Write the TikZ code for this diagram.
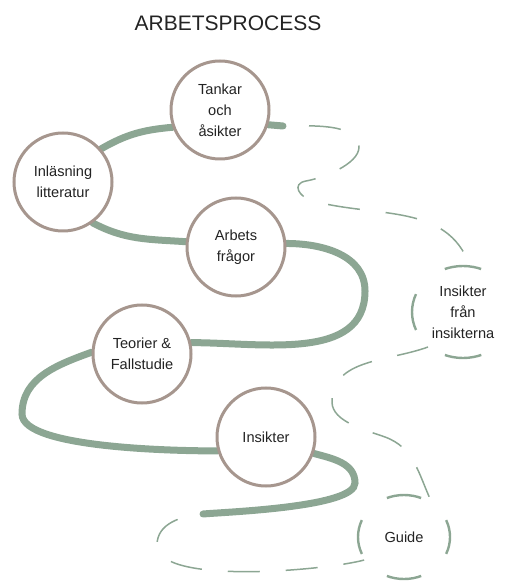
\documentclass[tikz,border=0pt]{standalone}
\usepackage{fontspec}
\setmainfont{Liberation Sans}
\usetikzlibrary{positioning,shapes.geometric,backgrounds}
\definecolor{sage}{RGB}{140,166,147}
\definecolor{taupe}{RGB}{166,150,142}
\definecolor{ink}{RGB}{35,35,35}
\tikzstyle{stage} = [ draw=taupe, circle, line width=1.5pt, fill=white, inner sep=0pt, minimum size=49pt, align=center, text=ink, font=\fontsize{7.3}{10.6}\selectfont ]
\tikzstyle{later} = [ draw=sage, ellipse, line width=1.2pt, inner sep=0pt, align=center, text=ink, font=\fontsize{7.3}{10.6}\selectfont ]
\tikzstyle{track} = [ draw=sage, line width=3.5pt, line cap=round ]
\tikzstyle{hint} = [ draw=sage, line width=0.75pt, dash pattern=on 16pt off 13pt ]

\begin{document}
\begin{tikzpicture}[x=0.5pt, y=-0.5pt]
	\useasboundingbox (0,0) rectangle (507,581);
	\node[text=ink, font=\fontsize{10.5}{12}\selectfont] (title) at ( 228, 23 ) {ARBETSPROCESS};

	\node[stage] (tankar) at ( 220, 110 ) {Tankar\\och\\åsikter};
	\node[stage] (inlas) at ( 63, 182 ) {Inläsning\\litteratur};
	\node[stage] (arbets) at ( 236, 247 ) {Arbets\\frågor};
	\node[stage] (teorier) at ( 142, 354 ) {Teorier \&\\Fallstudie};
	\node[stage] (insikter) at ( 266, 437 ) {Insikter};
	\node[later, minimum width=51pt, minimum height=46pt, dash pattern=on 18.5pt off 19.62pt, dash phase=9.25pt] (insfran) at ( 463, 312 ) {Insikter\\från\\insikterna};
	\node[later, minimum width=46pt, minimum height=42pt, dash pattern=on 17.5pt off 17.07pt, dash phase=8.75pt] (guide) at ( 404, 537 ) {Guide};

	\coordinate (tstart) at ( 283, 126 );
	\coordinate (turnA) at ( 365, 291 );
	\coordinate (turnB) at ( 22, 414 );
	\coordinate (turnC) at ( 355, 483 );
	\coordinate (tend) at ( 203, 514 );
	\coordinate (bendA) at ( 359, 147 );
	\coordinate (bendB) at ( 306, 181 );
	\coordinate (bendB2) at ( 313, 201 );
	\coordinate (bendD) at ( 332, 402 );
	\coordinate (bendD2) at ( 385, 437 );
	\coordinate (bendE) at ( 157, 545 );

	% the walked part of the spiral, behind the circles
	\begin{scope}[on background layer]
	\draw[track] (tstart) -- (tankar.-17);
	\draw[track] (tankar.200) to[out=185, in=30] (inlas.41);
	\draw[track] (inlas.-54) to[out=-28, in=176] (arbets.174);
	\draw[track] (arbets.4) to[out=0, in=90] (turnA) to[out=-90, in=0] (teorier.13);
	\draw[track] (teorier.178) to[out=200, in=90] (turnB) to[out=-90, in=180, looseness=0.45] (insikter.196);
	\draw[track] (insikter.-19) to[out=-15, in=90] (turnC) to[out=-90, in=5, looseness=0.4] (tend);
	\end{scope}

	% the part still ahead
	\draw[hint, dash phase=16pt] (tstart) to[out=0, in=90, looseness=0.8] (bendA) to[out=-90, in=10, looseness=0.7] (bendB) to[out=190, in=165, looseness=1.8] (bendB2) to[out=-15, in=110] (insfran.82);
	\draw[hint] (insfran.225) to[out=200, in=90] (bendD) to[out=-90, in=160, looseness=0.8] (bendD2) to[out=-20, in=115] (guide.52);
	\draw[hint, dash phase=16pt] (tend) to[out=185, in=90] (bendE) to[out=-90, in=195, looseness=0.5] (guide.210);
\end{tikzpicture}
\end{document}
